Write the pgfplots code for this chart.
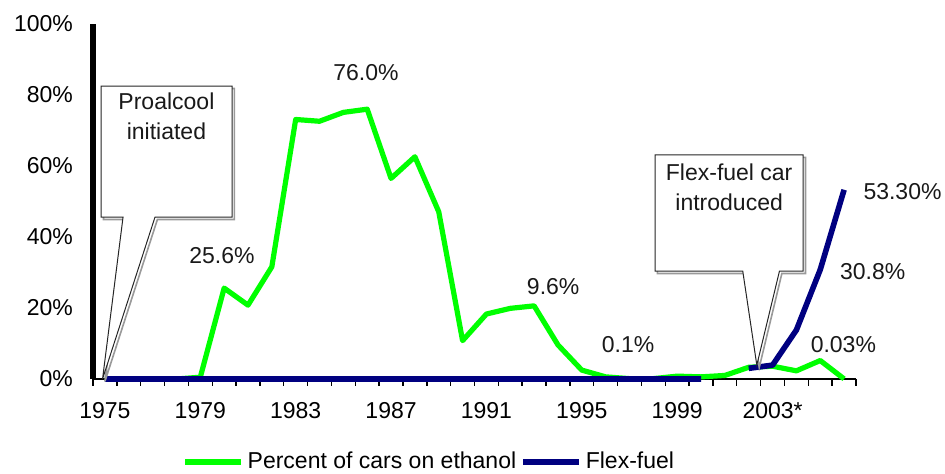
\documentclass[border=0pt]{standalone}
\usepackage{fontspec}
\setmainfont{Liberation Sans}
\usepackage{pgfplots}
\pgfplotsset{compat=1.18}
\definecolor{limeg}{HTML}{00FF00}
\definecolor{navyb}{HTML}{000080}
\newcommand{\fs}{\fontsize{11.5}{15}\selectfont}
\begin{document}
\begin{tikzpicture}
\begin{axis}[
  at={(46.5pt,47.5pt)}, anchor=south west,
  scale only axis, width=381.5pt, height=177.5pt,
  xmin=1974.5, xmax=2006.5, ymin=0, ymax=100,
  axis x line=bottom, axis y line=left,
  x axis line style={-, line width=0.7pt},
  y axis line style={-, line width=3pt},
  xtick={1975,1979,1983,1987,1991,1995,1999,2003},
  xticklabels={1975,1979,1983,1987,1991,1995,1999,2003*},
  minor xtick={1974.5,1975.5,...,2006.5},
  tick align=outside, major tick length=0pt, minor tick length=3.5pt,
  minor tick style={black, line width=0.7pt},
  xticklabel style={yshift=-8pt},
  ytick={0,20,...,100}, yticklabels={0\%,20\%,40\%,60\%,80\%,100\%},
  yticklabel style={xshift=-6.5pt},
  tick label style={font=\fs, text=black},
  clip=false,
  unbounded coords=jump,
  legend style={at={(0.442,-0.234)}, anchor=center, draw=none, fill=none, font=\fs,
    /tikz/every even column/.append style={column sep=0pt}},
  legend columns=2,
  legend image code/.code={\draw[#1] (0pt,0pt) -- (28pt,0pt);},
]
\addplot[limeg, line width=2.6pt, line join=round] coordinates {
(1975,0) (1976,0) (1977,0) (1978,0) (1979,0.5) (1980,25.6) (1981,20.8) (1982,31.6)
(1983,73.1) (1984,72.6) (1985,75.1) (1986,76.0) (1987,56.5) (1988,62.6) (1989,47.1)
(1990,10.8) (1991,18.3) (1992,19.9) (1993,20.6) (1994,9.6) (1995,2.5) (1996,0.6)
(1997,0.1) (1998,0.1) (1999,0.8) (2000,0.6) (2001,1.0) (2002,3.3) (2003,3.6)
(2004,2.3) (2005,5.2) (2006,0.03)};
\addlegendentry{Percent of cars on ethanol}
\addplot[navyb, line width=2.8pt, line join=round] coordinates {
(1975,0) (1976,0) (1977,0) (1978,0) (1979,0) (1980,0) (1981,0) (1982,0)
(1983,0) (1984,0) (1985,0) (1986,0) (1987,0) (1988,0) (1989,0)
(1990,0) (1991,0) (1992,0) (1993,0) (1994,0) (1995,0) (1996,0)
(1997,0) (1998,0) (1999,0) (2000,0) (2001,nan) (2002,3.0) (2003,3.9)
(2004,13.8) (2005,30.8) (2006,53.3)};
\addlegendentry{Flex-fuel}
% callouts
\draw[black!40, line width=0.8pt, shift={(1.2pt,-1.2pt)}] (1974.84,82.5) -- (1980.33,82.5) -- (1980.33,45.6) -- (1977.1,45.6) -- (1974.9,0) -- (1975.76,45.6) -- (1974.84,45.6) -- cycle;
\filldraw[fill=white, draw=black!85, line width=0.5pt] (1974.84,82.5) -- (1980.33,82.5) -- (1980.33,45.6) -- (1977.1,45.6) -- (1974.9,0) -- (1975.76,45.6) -- (1974.84,45.6) -- cycle;
\node[font=\fs, align=center, text=black!90] at (1977.58,74.1) {Proalcool\\initiated};
\draw[black!40, line width=0.8pt, shift={(1.2pt,-1.2pt)}] (1998.07,63.1) -- (2004.28,63.1) -- (2004.28,30.4) -- (2003.29,30.4) -- (2002.34,3.9) -- (2001.75,30.4) -- (1998.07,30.4) -- cycle;
\filldraw[fill=white, draw=black!85, line width=0.5pt] (1998.07,63.1) -- (2004.28,63.1) -- (2004.28,30.4) -- (2003.29,30.4) -- (2002.34,3.9) -- (2001.75,30.4) -- (1998.07,30.4) -- cycle;
\node[font=\fs, align=center, text=black!90] at (2001.18,54.1) {Flex-fuel car\\introduced};
% data labels
\node[font=\fs, text=black!90] at (1979.91,34.9) {25.6\%};
\node[font=\fs, text=black!90] at (1985.95,86.2) {76.0\%};
\node[font=\fs, text=black!90] at (1993.8,26.1) {9.6\%};
\node[font=\fs, text=black!90] at (1996.94,9.6) {0.1\%};
\node[font=\fs, text=black!90] at (2005.97,9.6) {0.03\%};
\node[font=\fs, text=black!90] at (2007.2,30.2) {30.8\%};
\node[font=\fs, text=black!90] at (2008.45,52.8) {53.30\%};
\end{axis}
\pgfresetboundingbox
\path[use as bounding box] (0,0) rectangle (472.5pt,237pt);
\end{tikzpicture}
\end{document}
